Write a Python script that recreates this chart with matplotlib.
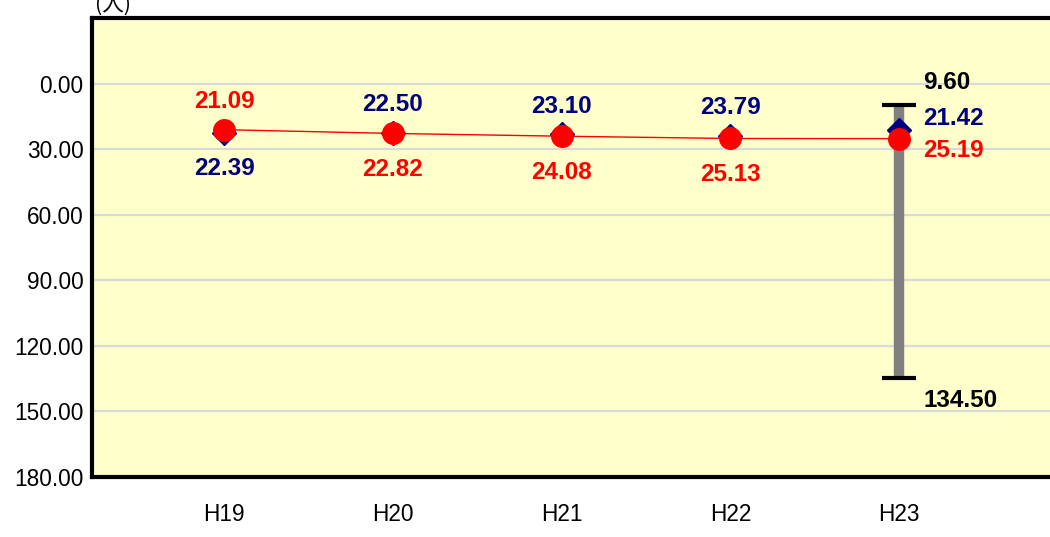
import matplotlib
matplotlib.use("Agg")
import matplotlib.pyplot as plt

categories = ["H19", "H20", "H21", "H22", "H23"]
red_values = [21.09, 22.82, 24.08, 25.13, 25.19]
blue_values = [22.39, 22.50, 23.10, 23.79, 21.42]
range_high = 9.60      # top of the range bar (H23)
range_low = 134.50     # bottom of the range bar (H23)
y_ticks = [0, 30, 60, 90, 120, 150, 180]
y_tick_labels = ["0.00", "30.00", "60.00", "90.00", "120.00", "150.00", "180.00"]
unit_label = "(人)"

plt.rcParams['font.family'] = ['Liberation Sans', 'Noto Sans CJK JP', 'DejaVu Sans']

RED = "#FF0000"
NAVY = "#000080"

fig = plt.figure(figsize=(10.5, 5.37), dpi=100)
ax = fig.add_axes([92/1050, 60/537, 968/1050, 459/537])
ax.set_facecolor("#FFFFCC")

x = list(range(len(categories)))
ax.set_xlim(-0.784, 4.954)
ax.set_ylim(180, -30)

ax.set_yticks(y_ticks)
ax.set_yticklabels(y_tick_labels, fontsize=16.3)
ax.set_xticks(x)
ax.set_xticklabels(categories, fontsize=16.3)
ax.tick_params(axis='y', length=0, pad=6)
ax.tick_params(axis='x', length=0, pad=19)
ax.grid(axis='y', color="#D9D9D9", lw=1.6, zorder=0)
ax.set_axisbelow(True)

for s in ['left', 'top', 'bottom']:
    ax.spines[s].set_linewidth(3)
    ax.spines[s].set_color('black')
ax.spines['right'].set_visible(False)

# range bar on last category
xi = x[-1]
ax.vlines(xi, range_high, range_low, color="#808080", lw=7.5, zorder=2)
ax.plot([xi, xi], [range_high, range_low], ls='none', marker='_',
        markersize=25, mew=3, color='black', zorder=3)

# series
ax.plot(x, red_values, color=RED, lw=1.0, zorder=3)
ax.plot(x, blue_values, ls='none', marker='D', markersize=12,
        color=NAVY, zorder=4)
ax.plot(x, red_values, ls='none', marker='o', markersize=15.5,
        color=RED, zorder=5)

lab_kw = dict(textcoords='offset pixels', fontsize=17.5, fontweight='bold',
              va='center', annotation_clip=False)
for i in x[:-1]:
    r, b = red_values[i], blue_values[i]
    if r <= b:
        ax.annotate(f"{r:.2f}", (i, r), xytext=(0, 28), ha='center', color=RED, **lab_kw)
        ax.annotate(f"{b:.2f}", (i, b), xytext=(0, -36), ha='center', color=NAVY, **lab_kw)
    else:
        ax.annotate(f"{b:.2f}", (i, b), xytext=(0, 28), ha='center', color=NAVY, **lab_kw)
        ax.annotate(f"{r:.2f}", (i, r), xytext=(0, -36), ha='center', color=RED, **lab_kw)

i = x[-1]
ax.annotate(f"{range_high:.2f}", (i, range_high), xytext=(24, 22), ha='left', color='black', **lab_kw)
ax.annotate(f"{blue_values[i]:.2f}", (i, blue_values[i]), xytext=(24, 12), ha='left', color=NAVY, **lab_kw)
ax.annotate(f"{red_values[i]:.2f}", (i, red_values[i]), xytext=(24, -12), ha='left', color=RED, **lab_kw)
ax.annotate(f"{range_low:.2f}", (i, range_low), xytext=(24, -23), ha='left', color='black', **lab_kw)

fig.text(113/1050, 1 - 16/537, unit_label, ha='center', va='bottom', fontsize=15.5,
         family=['Noto Sans CJK JP', 'DejaVu Sans'])

fig.savefig("out.png", dpi=100)
